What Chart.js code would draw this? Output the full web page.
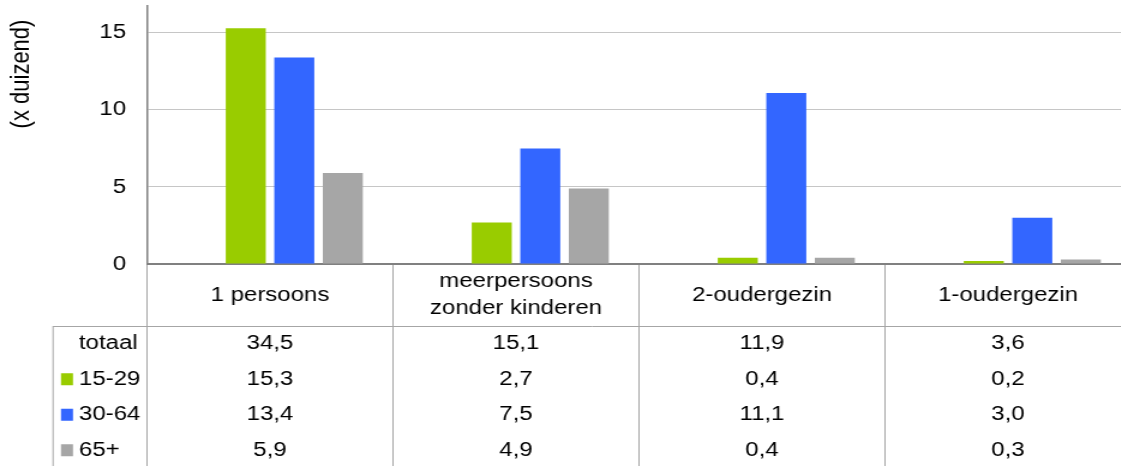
<!DOCTYPE html>
<html>
<head>
<meta charset="utf-8">
<script src="https://cdn.jsdelivr.net/npm/chart.js@4.4.0/dist/chart.umd.min.js"></script>
<style>
html, body { margin: 0; padding: 0; overflow: hidden; background: #fff; width: 1121px; height: 466px; }
#wrap { position: absolute; left: 0; top: 0; width: 943px; height: 466px; transform: scaleX(1.2); transform-origin: 0 0; }
</style>
</head>
<body>
<div id="wrap"><canvas id="c"></canvas></div>
<script>
// ---- data ----
const categories = ['1 persoons', ['meerpersoons', 'zonder kinderen'], '2-oudergezin', '1-oudergezin'];
const seriesNames = ['totaal', '15-29', '30-64', '65+'];
const totaal = [34.5, 15.1, 11.9, 3.6];
const age15_29 = [15.3, 2.7, 0.4, 0.2];
const age30_64 = [13.4, 7.5, 11.1, 3.0];
const age65plus = [5.9, 4.9, 0.4, 0.3];
const yTickStep = 5;
const yMax = 16.75;
const yTitle = '(x duizend)';

const FONT = '"Liberation Sans", Arial, Helvetica, sans-serif';
const seriesData = [totaal, age15_29, age30_64, age65plus];
const seriesColors = ['rgba(0,0,0,0)', '#99cc00', '#3366ff', '#a6a6a6'];

const fmt = v => v.toFixed(1).replace('.', ',');

const tablePlugin = {
  id: 'dataTable',
  afterDraw(chart) {
    const { ctx } = chart;
    const x = chart.scales.x, y = chart.scales.y;
    const n = categories.length;
    const axisY = y.bottom;
    const headerBottom = 326;
    const rowH = 35.5;
    const tableLeft = 44.2;
    const bottom = chart.height;
    ctx.save();
    // grid lines of the table
    ctx.strokeStyle = '#a6a6a6';
    ctx.lineWidth = 1;
    ctx.beginPath();
    for (let i = 0; i <= n; i++) {
      const px = x.getPixelForValue(i - 0.5);
      ctx.moveTo(px, axisY + 1);
      ctx.lineTo(px, bottom);
    }
    ctx.moveTo(tableLeft, headerBottom);
    ctx.lineTo(tableLeft, bottom);
    ctx.moveTo(tableLeft, headerBottom + 0.5);
    ctx.lineTo(x.right, headerBottom + 0.5);
    ctx.stroke();

    // rows
    ctx.font = '20px ' + FONT;
    ctx.textBaseline = 'middle';
    for (let r = 0; r < seriesNames.length; r++) {
      const cy = headerBottom + rowH * (r + 0.5);
      if (r > 0) {
        ctx.fillStyle = seriesColors[r];
        ctx.fillRect(50.8, cy - 6, 10, 12);
      }
      ctx.fillStyle = '#000';
      ctx.textAlign = 'left';
      ctx.fillText(seriesNames[r], 65.8, cy);
      ctx.textAlign = 'center';
      for (let c = 0; c < n; c++) {
        ctx.fillText(fmt(seriesData[r][c]), x.getPixelForValue(c), cy);
      }
    }

    // y axis title
    ctx.translate(17.5, 74);
    ctx.rotate(-Math.PI / 2);
    ctx.font = '22px ' + FONT;
    ctx.textAlign = 'center';
    ctx.textBaseline = 'middle';
    ctx.fillStyle = '#000';
    ctx.fillText(yTitle, 0, 0);
    ctx.restore();
  }
};

new Chart(document.getElementById('c'), {
  type: 'bar',
  data: {
    labels: categories,
    datasets: seriesNames.map((name, i) => ({
      label: name,
      data: seriesData[i],
      backgroundColor: seriesColors[i],
      borderWidth: 0,
      categoryPercentage: 0.789,
      barPercentage: 0.825
    }))
  },
  options: {
    responsive: true,
    maintainAspectRatio: false,
    animation: false,
    layout: { padding: { top: 6, left: 0, right: 0.5, bottom: 0 } },
    plugins: { legend: { display: false }, tooltip: { enabled: false } },
    scales: {
      x: {
        grid: { display: false, drawTicks: false },
        border: { display: true, color: '#808080', width: 2 },
        ticks: {
          font: { family: FONT, size: 20, lineHeight: 1.35 },
          color: '#000', padding: 17.5, maxRotation: 0, autoSkip: false, crossAlign: 'center'
        },
        afterFit(s) { s.height = 202; s.paddingLeft = 0; s.paddingRight = 0; }
      },
      y: {
        min: 0, max: yMax,
        grid: { color: '#c6c6c6', lineWidth: 1, drawTicks: false },
        border: { display: true, color: '#808080', width: 1.5 },
        ticks: {
          stepSize: yTickStep, includeBounds: false,
          font: { family: FONT, size: 20 }, color: '#000', padding: 17.5
        },
        afterFit(s) { s.width = 122.5; s.paddingTop = 0; s.paddingBottom = 0; }
      }
    }
  },
  plugins: [tablePlugin]
});
</script>
</body>
</html>
